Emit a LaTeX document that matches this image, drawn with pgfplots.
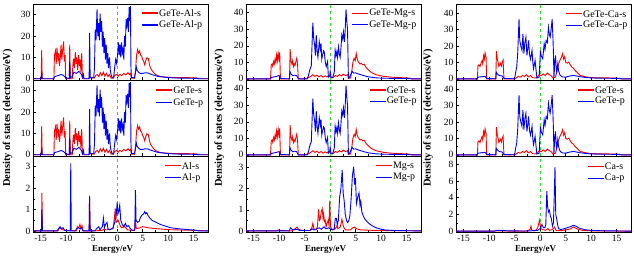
\documentclass[border=0pt]{standalone}
\usepackage{fontspec}
\setmainfont{Liberation Serif}
\usepackage{pgfplots}
\usepackage{pgfplotstable}
\pgfplotsset{compat=1.18}

% ---------- (a) GeTe-Al ----------
\pgfplotstableread{
x y
-16.5 0
-14.9 0
-14.8 13.3
-14.7 0
-12.4 0
-12.3 11
-12.1 13
-11.95 7
-11.8 14.5
-11.6 9
-11.45 12
-11.3 6
-11.15 10
-11.0 16
-10.85 9
-10.7 13
-10.5 17.5
-10.35 8
-10.2 11
-10.1 0
-9.4 0
-9.3 16
-9.2 0
-8.8 0
-8.7 6
-8.55 9.4
-8.4 5
-8.2 12.5
-8.05 7
-7.9 10
-7.75 4
-7.55 11
-7.4 6
-7.25 9
-7.1 3
-6.95 12
-6.8 0
-5.6 0
-5.5 0.5
-4.5 0.3
-4.2 1.5
-3.9 2
-3.6 1
-3.3 2.8
-3.0 1.5
-2.7 3
-2.4 1.2
-2.1 2.5
-1.8 1
-1.5 2
-1.2 0.3
-0.8 0.2
-0.5 1.5
-0.2 2
0.2 1.2
0.5 2
0.9 1.5
1.3 2.5
1.7 1.8
2.1 2.8
2.4 2
2.6 2.5
2.8 0.3
3.4 0.2
3.6 4
3.8 11
4.0 13.7
4.2 12
4.4 13
4.6 11
4.8 10.5
5.0 9
5.2 8
5.4 6.5
5.6 8.5
5.8 9.8
6.1 9.5
6.3 7
6.5 5
6.8 4
7.1 3
7.5 2
7.9 1.5
8.5 1.0
9.5 0.8
10.5 0.6
12 0.5
14 0.5
15.5 0.4
16 0
17.8 0
}\aTs
\pgfplotstableread{
x y
-16.5 0
-14.9 0
-14.8 2.8
-14.7 0
-12.4 0
-12.3 1
-11.5 1.5
-11 2
-10.5 1.5
-10.1 0.5
-9.4 0
-9.3 8
-9.2 0.5
-8.8 1
-8.5 3
-8.0 2.5
-7.5 3.5
-7.0 2
-6.8 0.5
-6.6 2
-6.5 0
-5.5 0
-5.4 21.5
-5.3 0.5
-4.6 0.5
-4.45 5
-4.3 23
-4.15 18
-3.95 32.5
-3.8 20
-3.65 26
-3.5 18
-3.35 30.5
-3.2 22
-3.05 27
-2.9 15
-2.75 22
-2.6 12
-2.45 19
-2.3 9
-2.15 16
-2.0 7
-1.85 12
-1.7 5
-1.5 10
-1.35 4
-1.2 2
-1.0 0.5
-0.7 0.5
-0.5 5
-0.3 9
-0.1 7
0.1 12
0.25 17
0.4 11
0.55 16
0.7 10
0.85 17
1.0 12
1.15 14
1.3 9
1.45 20
1.6 15
1.75 28
1.9 25
2.05 28.5
2.2 22
2.35 33.5
2.5 27
2.6 34
2.7 5
2.8 0.5
3.4 0.5
3.6 3
3.75 5.5
3.9 4
4.2 3
4.5 2.5
5.0 2.5
5.5 2.8
6.0 2.7
6.5 2.2
7.0 1.8
7.5 1.4
8 1.1
9 0.8
10 0.5
12 0.3
15 0.2
16 0
17.8 0
}\aTp
\pgfplotstableread{
x y
-16.5 0
-14.85 0
-14.75 1.78
-14.65 0
-11.6 0
-11.3 0.15
-11.0 0.1
-10.7 0.05
-8.0 0
-7.8 0.2
-7.5 0.15
-7.3 0.3
-7.1 0.1
-6.9 0.25
-6.7 0
-5.5 0
-5.42 1.65
-5.3 0
-3.0 0.02
-2.5 0.1
-2.2 0.05
-0.8 0.1
-0.55 0.6
-0.38 1.05
-0.2 0.4
0.2 0.5
0.5 0.3
0.8 0.15
1.5 0.2
2.0 0.05
3.4 0.02
3.58 0.5
3.75 0.1
4.5 0.15
5 0.2
6 0.15
7 0.12
8 0.1
10 0.06
13 0.04
16 0.02
17.8 0
}\aBs
\pgfplotstableread{
x y
-16.5 0
-14.85 0
-14.75 1.0
-14.65 0
-11.8 0
-11.5 0.1
-11.2 0.2
-10.9 0.1
-10.6 0.15
-10.3 0.02
-9.2 0
-9.1 3.15
-9.0 0
-8.2 0
-8.0 0.1
-7.6 0.15
-7.3 0.1
-7.0 0.15
-6.7 0
-5.5 0
-5.42 1.6
-5.3 0
-4.3 0
-4.1 0.1
-3.6 0.2
-3.4 0.05
-2.9 0.2
-2.7 0.6
-2.5 0.15
-2.3 0.3
-2.0 0.4
-1.8 0.1
-1.4 0.05
-0.8 0.15
-0.5 0.4
-0.2 0.7
0.0 1.33
0.15 0.8
0.3 0.9
0.5 1.2
0.7 0.5
1.0 0.3
1.3 0.2
1.6 0.35
1.9 0.2
2.2 0.25
2.6 0.1
3.0 0.02
3.45 0.05
3.58 1.9
3.7 0.5
4.0 0.4
4.3 0.45
4.6 0.65
4.9 0.75
5.2 0.8
5.4 0.9
5.6 0.8
5.8 0.85
6.1 0.7
6.4 0.6
6.8 0.5
7.2 0.45
7.8 0.38
8.5 0.3
9.5 0.22
10.5 0.15
12 0.1
14 0.06
15.5 0.03
16 0
17.8 0
}\aBp

% ---------- (b) GeTe-Mg ----------
\pgfplotstableread{
x y
-16.5 0
-11.7 0
-11.55 8.5
-11.4 9
-11.25 7.5
-11.1 10.5
-10.95 9
-10.8 12
-10.65 10
-10.5 14.5
-10.35 11
-10.2 15.5
-10.05 12
-9.9 16
-9.75 0
-7.95 0
-7.85 18
-7.7 11
-7.5 9
-7.35 11
-7.2 7.5
-7.05 9
-6.9 8
-6.75 10
-6.55 12.5
-6.4 9
-6.25 0
-5.0 0
-4.6 0.3
-4.2 0.8
-3.8 1.5
-3.4 2.5
-3.0 1.5
-2.6 2.2
-2.2 1.2
-1.8 2
-1.4 1
-1.0 1.8
-0.6 1.2
-0.3 2
0.0 1.5
0.3 0.5
0.6 0.8
1.0 2
1.4 1.5
1.8 2.5
2.2 1.8
2.6 2.8
3.0 2
3.4 2.5
3.6 0.3
4.0 0.5
4.25 5
4.45 10
4.7 12.4
4.9 11
5.1 15.4
5.3 12
5.5 10.4
5.8 9
6.1 9.4
6.4 8.5
6.7 8.8
7.0 7
7.5 5.4
8.0 4
8.5 3.2
9.0 2.5
9.7 2
10.5 1.5
12 1
14 0.7
15.5 0.5
16 0
17.8 0
}\bTs
\pgfplotstableread{
x y
-16.5 0
-11.7 0
-11.55 0.8
-11.0 1.2
-10.5 1.5
-10.0 2
-9.75 0.2
-8.0 0
-7.9 4.5
-7.7 3
-7.4 2
-7.0 2.2
-6.6 2
-6.25 0
-4.5 0
-4.25 2
-4.0 5.5
-3.7 8
-3.4 34
-3.25 25
-3.05 20.4
-2.9 14
-2.73 26.4
-2.55 16.4
-2.4 13
-2.14 22.4
-1.95 18
-1.8 21.4
-1.65 12
-1.5 14.4
-1.3 17
-1.17 16.4
-0.95 10
-0.78 7.4
-0.52 10.4
-0.35 1
-0.1 2
0.0 4.4
0.15 1
0.5 0.8
0.8 4
0.97 17.4
1.15 14
1.3 16.4
1.45 13
1.62 19.4
1.8 15
1.95 13
2.1 18
2.27 26.4
2.45 24
2.6 28.4
2.8 22.4
2.95 30
3.1 42
3.25 35
3.4 30
3.57 0.5
3.8 1
4.1 3
4.3 4.5
4.6 3.5
5.0 3.6
5.5 3
6.0 2.5
6.5 2
7.0 1.6
7.5 1.2
8.0 1
9.0 0.6
10.5 0.4
12 0.3
15 0.2
16 0
17.8 0
}\bTp
\pgfplotstableread{
x y
-16.5 0
-10.5 0
-10.2 0.05
-9.8 0.02
-7.5 0
-7.2 0.05
-6.8 0.12
-6.5 0.18
-6.2 0.08
-5.5 0.02
-4.0 0.02
-3.6 0.15
-3.4 0.36
-3.2 0.1
-2.8 0.05
-2.5 0.2
-2.27 1.02
-2.1 0.5
-1.95 0.56
-1.75 0.9
-1.56 1.05
-1.4 0.6
-1.3 0.8
-1.1 0.45
-0.97 0.5
-0.8 0.2
-0.65 0.33
-0.4 0.5
-0.25 0.3
-0.08 1.43
0.05 0.2
0.5 0.05
1.0 0.1
1.3 0.25
1.5 0.1
2.0 0.2
2.3 0.55
2.6 0.2
3.0 0.05
4.0 0.05
4.4 0.15
4.8 0.18
5.2 0.1
6 0.05
8 0.03
10 0.02
16 0.01
17.8 0
}\bBs
\pgfplotstableread{
x y
-16.5 0
-8.0 0
-7.8 0.15
-7.5 0.08
-7.0 0.05
-6.5 0.08
-6.0 0.03
-4.0 0.02
-3.5 0.1
-3.2 0.05
-2.6 0.1
-2.2 0.15
-1.7 0.08
-1.2 0.2
-0.8 0.1
-0.3 0.15
0.0 0.1
0.5 0.05
0.8 0.1
1.0 0.6
1.2 0.6
1.4 0.3
1.6 0.5
1.85 1.6
2.1 2.0
2.35 2.88
2.55 1.8
2.75 1.4
2.95 0.8
3.15 0.55
3.4 0.4
3.6 0.45
3.85 0.7
4.1 1.5
4.35 2.6
4.6 3.05
4.8 2.2
4.95 2.5
5.15 1.3
5.4 1.6
5.65 1.8
5.85 1.2
6.0 1.4
6.2 0.9
6.5 0.7
6.8 0.56
7.2 0.45
7.6 0.35
8.2 0.25
9.0 0.15
10 0.08
11 0.04
13 0.02
17.8 0
}\bBp

% ---------- (c) GeTe-Ca ----------
\pgfplotstableread{
x y
-16.5 0
-12.3 0
-12.2 8
-12.0 8.5
-11.8 7.5
-11.6 9.5
-11.4 11
-11.25 9
-11.1 14
-10.95 12
-10.8 15.8
-10.6 13
-10.5 0
-8.7 0
-8.57 16.9
-8.4 12
-8.25 10.2
-8.1 7.5
-7.95 8.2
-7.8 9.5
-7.6 7.8
-7.45 10
-7.27 11.5
-7.1 0
-5.0 0
-4.7 0.5
-4.3 1.5
-3.9 1
-3.5 2
-3.1 1.5
-2.7 2.5
-2.3 1.2
-1.9 2
-1.5 0.8
-1.0 0.5
-0.6 1
-0.2 2.5
0.2 2
0.6 3
1.0 2
1.4 3.5
1.8 2.5
2.2 1.8
2.5 0.5
3.0 1
3.3 5
3.6 9
3.9 11.5
4.15 13
4.4 15.3
4.6 12
4.8 13.5
5.0 10
5.3 9.5
5.6 10.2
5.9 8.5
6.2 7.2
6.5 6.5
6.8 5.2
7.2 4
7.8 2.2
8.5 1.5
9.7 0.8
12 0.6
15 0.5
15.5 0.3
16 0
17.8 0
}\cTs
\pgfplotstableread{
x y
-16.5 0
-12.3 0
-12.2 1
-11.5 1.3
-10.8 1.5
-10.5 0.3
-8.7 0
-8.6 4
-8.4 3
-8.0 2
-7.5 1.8
-7.1 0.3
-5.0 0
-4.87 3
-4.6 7.2
-4.4 16
-4.15 36.3
-4.0 23.3
-3.8 20
-3.57 17.3
-3.38 27.3
-3.2 15.3
-3.0 22
-2.8 25.3
-2.6 14.3
-2.45 18
-2.27 23.3
-2.1 15
-1.9 12
-1.6 17.3
-1.45 10
-1.3 6.2
-1.0 11.2
-0.8 5
-0.65 0.5
-0.2 1
0.05 17.3
0.2 14
0.5 12.2
0.78 21.3
0.95 18
1.17 23.3
1.4 22
1.62 31.3
1.8 27
1.95 25.3
2.15 30
2.34 36.3
2.5 25
2.6 15.3
2.7 0.5
2.85 10
3.0 14.3
3.15 6
3.25 4.2
3.45 9.2
3.6 5
3.9 2.2
4.3 1.2
5.0 1
5.5 1.5
6.0 1.8
6.5 2.1
7.0 1.8
7.5 1.5
8.0 1.2
9.0 0.8
10.5 0.5
12 0.4
15 0.3
16 0
17.8 0
}\cTp
\pgfplotstableread{
x y
-16.5 0
-9 0
-8.5 0.05
-8 0.02
-3 0
-2.5 0.05
-2.0 0.2
-1.8 0.6
-1.65 0.1
-1.2 0.05
-0.8 0.15
-0.5 0.4
-0.35 0.7
-0.15 1.3
0.0 0.8
0.15 0.3
0.5 0.2
1.0 0.1
1.5 0.3
1.8 0.1
2.4 0.2
2.8 0.5
3.1 0.1
4 0.05
5 0.15
5.5 0.2
6.0 0.3
6.5 0.5
7.0 0.35
7.5 0.2
8.5 0.08
10 0.04
16 0.01
17.8 0
}\cBs
\pgfplotstableread{
x y
-16.5 0
-9 0
-8.5 0.1
-7.5 0.08
-6.5 0.05
-5 0.03
-3 0.02
-1.5 0.05
-0.5 0.1
0.0 0.3
0.2 0.6
0.35 0.8
0.6 0.45
0.9 0.4
1.1 0.8
1.3 4.8
1.45 3.0
1.62 2.3
1.8 2.5
2.0 1.8
2.2 1.5
2.4 0.6
2.6 1.0
2.75 4
2.9 7.7
3.05 2
3.25 1.4
3.4 0.8
3.6 0.3
4 0.2
4.5 0.25
5 0.35
5.5 0.45
6.0 0.55
6.5 0.7
7.0 0.6
7.5 0.4
8 0.3
9 0.15
10 0.1
12 0.05
16 0.02
17.8 0
}\cBp

\definecolor{zgreen}{RGB}{40,220,40}
\newcommand{\lgfont}{\fontsize{10}{11}\selectfont}
% legend samples as thin filled bars through the axis:
% #1 x start, #2 x end, #3 y row 1, #4 y row 2, #5 half-thickness (data units), #6 text 1, #7 text 2
\newcommand{\leg}[7]{%
  \addplot[fill=red, draw=none, forget plot] coordinates
    {(#1,#3-#5) (#2,#3-#5) (#2,#3+#5) (#1,#3+#5)} -- cycle;
  \addplot[fill=blue, draw=none, forget plot] coordinates
    {(#1,#4-#5) (#2,#4-#5) (#2,#4+#5) (#1,#4+#5)} -- cycle;
  \node[anchor=west, inner sep=0.8pt, font=\lgfont] at (axis cs:#2,#3) {#6};
  \node[anchor=west, inner sep=0.8pt, font=\lgfont] at (axis cs:#2,#4) {#7};
}
\pgfplotsset{
  dos/.style={
    scale only axis, width=175pt, height=76pt,
    xmin=-16.5, xmax=17.8,
    xtick={-15,-10,-5,0,5,10,15},
    minor x tick num=1, minor y tick num=1,
    tick align=inside, xtick pos=bottom, ytick pos=left,
    major tick length=3pt, minor tick length=1.6pt,
    every tick/.style={line width=0.6pt},
    axis line style={line width=0.9pt},
    tick label style={font=\fontsize{9.5}{10}\selectfont},
    /pgf/number format/assume math mode=true,
    yticklabel style={xshift=1pt},
    every axis plot/.append style={line width=0.9pt},
  },
  hide x/.style={xticklabels={}},
  ylab/.style={ylabel={\bfseries\fontsize{10.5}{12}\selectfont Density of states (electrons/eV)},
    ylabel style={at={(axis description cs:#1,0.5)}, anchor=center}},
  xlab/.style={xlabel={\bfseries\fontsize{9}{10}\selectfont Energy/eV},
    xlabel style={at={(axis description cs:0.455,-0.235)}, anchor=center}},
  zl/.style={forget plot, zgreen, dashed, line width=0.6pt},
}

\begin{document}
\begin{tikzpicture}
\useasboundingbox (0,0) rectangle (634pt,258pt);

% ===== column (a) =====
\begin{axis}[dos, hide x, at={(33pt,178pt)}, anchor=south west,
  ymin=-0.6, ymax=35, ytick={0,10,20,30}]
\addplot[zl] coordinates {(0,-1) (0,40)};
\addplot[red] table {\aTs};
\addplot[blue] table {\aTp};
\leg{4.87}{8.01}{30.8}{25.17}{0.28}{GeTe-Al-s}{GeTe-Al-p}
\node[anchor=center, font=\fontsize{13.5}{14}\selectfont] at (rel axis cs:-0.128,0.92) {(a)};
\end{axis}
\begin{axis}[dos, hide x, ylab=-0.145, at={(33pt,102pt)}, anchor=south west,
  ymin=-0.6, ymax=35, ytick={0,10,20,30}]
\addplot[zl] coordinates {(0,-1) (0,40)};
\addplot[red] table {\aTs};
\addplot[blue] table {\aTp};
\leg{7.68}{10.82}{30.3}{24.32}{0.28}{GeTe-s}{GeTe-p}
\end{axis}
\begin{axis}[dos, xlab, at={(33pt,26pt)}, anchor=south west,
  ymin=-0.05, ymax=3.5, ytick={0,1,2,3}]
\addplot[zl] coordinates {(0,-1) (0,4)};
\addplot[red] table {\aBs};
\addplot[blue] table {\aBp};
\leg{9.36}{12.5}{3.049}{2.485}{0.028}{Al-s}{Al-p}
\end{axis}

% ===== column (b) =====
\begin{axis}[dos, hide x, at={(246pt,178pt)}, anchor=south west,
  ymin=-0.7, ymax=45.3, ytick={0,10,20,30,40}]
\addplot[zl] coordinates {(0,-1) (0,50)};
\addplot[red] table {\bTs};
\addplot[blue] table {\bTp};
\leg{4.32}{7.46}{39.78}{32.65}{0.36}{GeTe-Mg-s}{GeTe-Mg-p}
\node[anchor=center, font=\fontsize{13.5}{14}\selectfont] at (rel axis cs:-0.137,0.92) {(b)};
\end{axis}
\begin{axis}[dos, hide x, ylab=-0.152, at={(246pt,102pt)}, anchor=south west,
  ymin=-0.7, ymax=45.3, ytick={0,10,20,30,40}]
\addplot[zl] coordinates {(0,-1) (0,50)};
\addplot[red] table {\bTs};
\addplot[blue] table {\bTp};
\leg{7.75}{10.89}{39.23}{32.14}{0.36}{GeTe-s}{GeTe-p}
\end{axis}
\begin{axis}[dos, xlab, at={(246pt,26pt)}, anchor=south west,
  ymin=-0.05, ymax=3.55, ytick={0,1,2,3}]
\addplot[zl] coordinates {(0,-1) (0,4)};
\addplot[red] table {\bBs};
\addplot[blue] table {\bBp};
\leg{8.98}{12.12}{3.082}{2.524}{0.028}{Mg-s}{Mg-p}
\end{axis}

% ===== column (c) =====
\begin{axis}[dos, hide x, at={(456pt,178pt)}, anchor=south west,
  ymin=-0.7, ymax=45.5, ytick={0,10,20,30,40}]
\addplot[zl] coordinates {(0,-1) (0,50)};
\addplot[red] table {\cTs};
\addplot[blue] table {\cTp};
\leg{5.07}{8.21}{39.49}{32.33}{0.365}{GeTe-Ca-s}{GeTe-Ca-p}
\node[anchor=center, font=\fontsize{13.5}{14}\selectfont] at (rel axis cs:-0.126,0.9) {(c)};
\end{axis}
\begin{axis}[dos, hide x, ylab=-0.16, at={(456pt,102pt)}, anchor=south west,
  ymin=-0.7, ymax=45.5, ytick={0,10,20,30,40}]
\addplot[zl] coordinates {(0,-1) (0,50)};
\addplot[red] table {\cTs};
\addplot[blue] table {\cTp};
\leg{7.41}{10.55}{39.4}{32.29}{0.365}{GeTe-s}{GeTe-p}
\end{axis}
\begin{axis}[dos, xlab, at={(456pt,26pt)}, anchor=south west,
  ymin=-0.1, ymax=9, ytick={0,2,4,6,8}]
\addplot[zl] coordinates {(0,-1) (0,10)};
\addplot[red] table {\cBs};
\addplot[blue] table {\cBp};
\leg{9.36}{12.5}{7.77}{6.32}{0.072}{Ca-s}{Ca-p}
\end{axis}
\end{tikzpicture}
\end{document}
